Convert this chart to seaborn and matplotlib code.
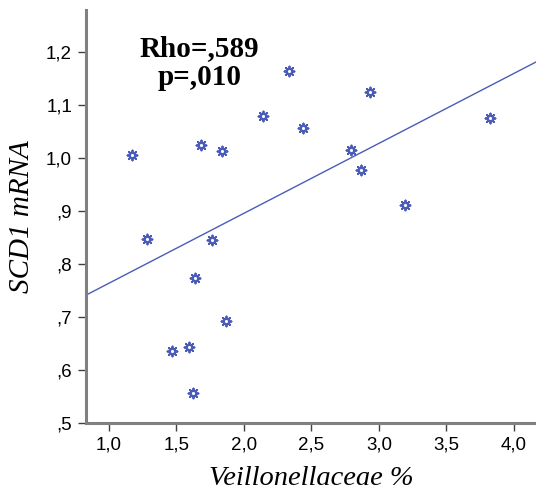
import matplotlib
matplotlib.use("Agg")
import matplotlib.pyplot as plt
import seaborn as sns
import pandas as pd
from matplotlib.ticker import FixedLocator, FixedFormatter

veillonellaceae = [1.17, 1.28, 1.68, 1.84, 2.14, 2.33, 2.44, 1.76, 1.64, 1.87,
                   1.47, 1.59, 1.62, 2.79, 2.93, 2.87, 3.19, 3.82]
scd1_mrna = [1.006, 0.847, 1.025, 1.013, 1.079, 1.164, 1.057, 0.845, 0.774, 0.692,
             0.636, 0.643, 0.557, 1.015, 1.125, 0.977, 0.911, 1.075]

x_ticks = [1.0, 1.5, 2.0, 2.5, 3.0, 3.5, 4.0]
x_tick_labels = ["1,0", "1,5", "2,0", "2,5", "3,0", "3,5", "4,0"]
y_ticks = [0.5, 0.6, 0.7, 0.8, 0.9, 1.0, 1.1, 1.2]
y_tick_labels = [",5", ",6", ",7", ",8", ",9", "1,0", "1,1", "1,2"]

df = pd.DataFrame({"x": veillonellaceae, "y": scd1_mrna})

sns.set_style("white")
color = "#4a5cb8"

fig = plt.figure(figsize=(5.36, 4.98), dpi=100)
ax = fig.add_axes([86 / 536, 75 / 498, 1 - 86 / 536, (423 - 10) / 498])
ax.set_xlim(0.83, 4.163)
ax.set_ylim(0.5, 1.279)

sns.regplot(data=df, x="x", y="y", ax=ax, ci=None, truncate=False,
            scatter=False, line_kws=dict(color=color, lw=1.0))
sns.scatterplot(data=df, x="x", y="y", ax=ax, marker=(8, 2, 0), s=50,
                color=color, linewidth=1.4, edgecolor=color)
sns.scatterplot(data=df, x="x", y="y", ax=ax, marker="o", s=12,
                facecolor="white", edgecolor=color, linewidth=1.2)

ax.set_xlim(0.83, 4.163)
ax.set_ylim(0.5, 1.279)
ax.xaxis.set_major_locator(FixedLocator(x_ticks))
ax.xaxis.set_major_formatter(FixedFormatter(x_tick_labels))
ax.yaxis.set_major_locator(FixedLocator(y_ticks))
ax.yaxis.set_major_formatter(FixedFormatter(y_tick_labels))

for side in ["top", "right"]:
    ax.spines[side].set_visible(False)
for side in ["left", "bottom"]:
    ax.spines[side].set_color("#808080")
    ax.spines[side].set_linewidth(2.2)

ax.tick_params(axis="both", direction="out", length=6, width=1,
               color="#404040", labelsize=13.5, pad=4, left=True, bottom=True)
for lab in ax.get_xticklabels() + ax.get_yticklabels():
    lab.set_family("Liberation Sans")
    lab.set_color("#000000")

ax.set_xlabel("Veillonellaceae %", fontsize=20.5, fontstyle="italic",
              family="Liberation Serif", labelpad=9, color="black")
ax.set_ylabel("SCD1 mRNA", fontsize=21, fontstyle="italic",
              family="Liberation Serif", labelpad=8, color="black")

ax.text(0.252, 0.94, "Rho=,589\np=,010", transform=ax.transAxes,
        ha="center", va="top", fontsize=21, fontweight="bold",
        family="Liberation Serif", linespacing=1.12, color="black")

fig.savefig("out.png", dpi=100)
